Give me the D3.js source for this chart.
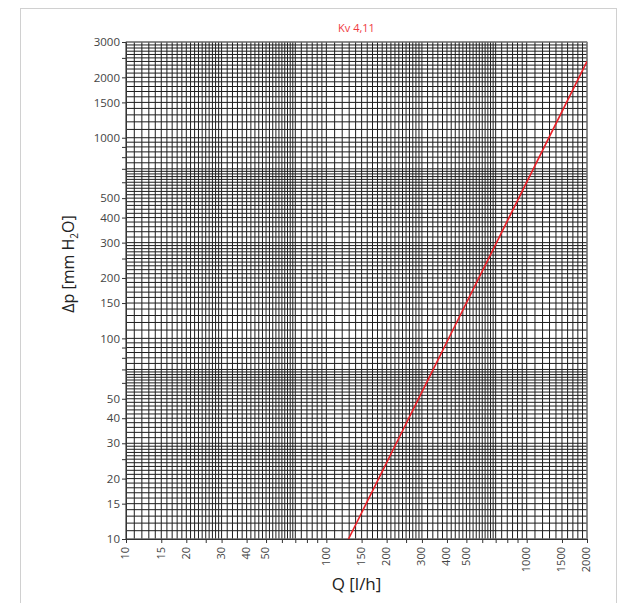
<!DOCTYPE html>
<html>
<head>
<meta charset="utf-8">
<script src="https://cdn.jsdelivr.net/npm/d3@7"></script>
<style>
  body { margin: 0; background: #fff; }
  text { font-family: "Open Sans", sans-serif; }
</style>
</head>
<body>
<svg width="637" height="603"></svg>
<script>
// chart data
var title = "Kv 4,11";
var qTicks = [10, 15, 20, 25, 30, 40, 50, 60, 70, 80, 90, 100, 150, 200, 250, 300, 400, 500, 600, 700, 800, 900, 1000, 1500, 2000];
var qLabels = [10, 15, 20, 30, 40, 50, 100, 150, 200, 300, 400, 500, 1000, 1500, 2000];
var dpTicks = [10, 15, 20, 25, 30, 40, 50, 60, 70, 80, 90, 100, 150, 200, 250, 300, 400, 500, 600, 700, 800, 900, 1000, 1500, 2000, 2500, 3000];
var dpLabels = [10, 15, 20, 30, 40, 50, 100, 150, 200, 300, 400, 500, 1000, 1500, 2000, 3000];
var curveQ = [129, 2000];
var curveDp = [10, 2400];

var svg = d3.select("svg"),
  pLeft = 126,
  pRight = 587,
  pTop = 42,
  pBottom = 539;

var x = d3.scaleLog().domain([10, 2000]).range([pLeft, pRight]),
  y = d3.scaleLog().domain([10, 3000]).range([pBottom, pTop]);

// outer frame
svg.append("rect")
  .attr("x", 20.5).attr("y", 8.5)
  .attr("width", 596).attr("height", 610)
  .style("fill", "none")
  .style("stroke", "#d0d0d0");

// log paper grid lines
function gridValues(min, max) {
  var steps = [[1, 3, 0.1], [3, 7, 0.2], [7, 10, 0.5]];
  var out = [];
  for (var dec = 1; dec <= 1000; dec *= 10) {
    steps.forEach(function (s) {
      for (var m = s[0]; m < s[1] - 1e-9; m += s[2]) {
        var v = Math.round(m * dec * 1000) / 1000;
        if (v >= min && v <= max) out.push(v);
      }
    });
  }
  return out;
}

var g = svg.append("g");

g.selectAll(".vgrid")
  .data(gridValues(10, 2000))
  .enter()
  .append("line")
  .attr("x1", function (d) { return x(d); })
  .attr("x2", function (d) { return x(d); })
  .attr("y1", pTop)
  .attr("y2", pBottom)
  .style("stroke", "#1e1e1e")
  .style("stroke-width", 1);

g.selectAll(".hgrid")
  .data(gridValues(10, 3000))
  .enter()
  .append("line")
  .attr("y1", function (d) { return y(d); })
  .attr("y2", function (d) { return y(d); })
  .attr("x1", pLeft)
  .attr("x2", pRight)
  .style("stroke", "#1e1e1e")
  .style("stroke-width", 1);

// plot frame
svg.append("rect")
  .attr("x", pLeft).attr("y", pTop)
  .attr("width", pRight - pLeft).attr("height", pBottom - pTop)
  .style("fill", "none")
  .style("stroke", "#8a8a8a");

// axes
var xAxis = svg.append("g")
  .attr("transform", "translate(0," + pBottom + ")")
  .call(d3.axisBottom(x).tickValues(qTicks).tickSize(4)
    .tickFormat(function (d) { return qLabels.indexOf(d) >= 0 ? d : ""; }));

xAxis.selectAll("text")
  .attr("transform", "rotate(-90)")
  .attr("text-anchor", "end")
  .attr("x", -8)
  .attr("y", -1)
  .attr("dy", "0.35em")
  .style("font-size", "11px")
  .style("fill", "#444");

var yAxis = svg.append("g")
  .attr("transform", "translate(" + pLeft + ",0)")
  .call(d3.axisLeft(y).tickValues(dpTicks).tickSize(4)
    .tickFormat(function (d) { return dpLabels.indexOf(d) >= 0 ? d : ""; }));

yAxis.selectAll("text")
  .attr("x", -6)
  .style("font-size", "11.5px")
  .style("fill", "#444");

svg.selectAll(".domain").style("stroke", "#333");
svg.selectAll(".tick line").style("stroke", "#333");

// curve
svg.append("clipPath").attr("id", "clip")
  .append("rect")
  .attr("x", pLeft).attr("y", pTop)
  .attr("width", pRight - pLeft).attr("height", pBottom - pTop);

var pts = curveQ.map(function (q, i) { return [q, curveDp[i]]; });

svg.append("path")
  .datum(pts)
  .attr("clip-path", "url(#clip)")
  .attr("d", d3.line()
    .x(function (d) { return x(d[0]); })
    .y(function (d) { return y(d[1]); }))
  .style("fill", "none")
  .style("stroke", "#ec2027")
  .style("stroke-width", 1.6);

// titles
svg.append("text")
  .attr("x", (pLeft + pRight) / 2)
  .attr("y", 32)
  .attr("text-anchor", "middle")
  .style("font-size", "11px")
  .style("fill", "#ef3b3f")
  .text(title);

svg.append("text")
  .attr("x", (pLeft + pRight) / 2)
  .attr("y", 590)
  .attr("text-anchor", "middle")
  .style("font-size", "17px")
  .style("fill", "#222")
  .text("Q [l/h]");

var yl = svg.append("text")
  .attr("text-anchor", "middle")
  .attr("transform", "translate(74,264)rotate(-90)")
  .style("font-size", "16px")
  .style("fill", "#222");
yl.append("tspan").text("\u0394p [mm H");
yl.append("tspan").attr("dy", 4).style("font-size", "10px").text("2");
yl.append("tspan").attr("dy", -4).text("O]");
</script>
</body>
</html>
